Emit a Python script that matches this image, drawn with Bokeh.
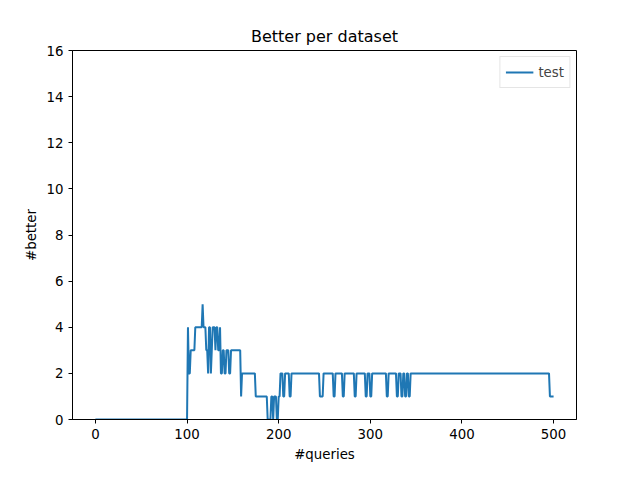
import numpy as np
from bokeh.plotting import figure
from bokeh.models import Legend, LegendItem, Range1d, FixedTicker
from bokeh.embed import file_html
from bokeh.resources import INLINE

# runs: (start query, value) held until next start
run_starts = [0, 101, 102, 104, 109, 117, 118, 121, 123, 124, 126, 127, 128, 131, 132, 134, 136, 137, 139, 141, 143, 146, 148, 151, 159, 160, 175, 188, 192, 194, 195, 198, 200, 202, 205, 207, 212, 214, 217,
              245, 249, 260, 262, 270, 272, 283, 285, 295, 297, 300, 302, 318, 320, 329, 331, 334, 336, 338, 340, 342, 344, 345, 496]
run_values = [0, 4, 2, 3, 4, 5, 4, 3, 2, 4, 2, 3, 4, 3, 4, 3, 4, 2, 3, 2, 3, 2, 3, 3, 1, 2, 1, 0, 1, 0, 1, 0, 1, 2, 1, 2, 1, 2, 2,
              1, 2, 1, 2, 1, 2, 1, 2, 1, 2, 1, 2, 1, 2, 1, 2, 1, 2, 1, 2, 1, 2, 2, 1]
last_query = 500

xs = np.arange(0, last_query + 1)
idx = np.searchsorted(run_starts, xs, side="right") - 1
ys = np.array(run_values)[idx]

p = figure(width=624, height=464, output_backend="svg", toolbar_location=None,
           title="Better per dataset", x_axis_label="#queries", y_axis_label="#better",
           min_border_left=72, min_border_right=48, min_border_top=50, min_border_bottom=37)
p.title.align = "center"
p.title.text_font = "DejaVu Sans"
p.title.text_font_size = "12pt"
p.title.text_font_style = "normal"
p.title.text_color = "black"
p.x_range = Range1d(-25, 525)
p.y_range = Range1d(0, 16)
p.xaxis.ticker = FixedTicker(ticks=[0, 100, 200, 300, 400, 500])
p.yaxis.ticker = FixedTicker(ticks=list(range(0, 17, 2)))
for ax in (p.xaxis[0], p.yaxis[0]):
    ax.axis_label_text_font = "DejaVu Sans"
    ax.axis_label_text_font_style = "normal"
    ax.axis_label_text_font_size = "10pt"
    ax.axis_label_text_color = "black"
    ax.major_label_text_font = "DejaVu Sans"
    ax.major_label_text_font_size = "10pt"
    ax.major_label_text_color = "black"
    ax.minor_tick_line_color = None
    ax.major_tick_in = 0
    ax.major_tick_out = 4
    ax.axis_line_color = "black"
    ax.major_tick_line_color = "black"
p.xgrid.visible = False
p.ygrid.visible = False
p.outline_line_color = "black"
r = p.line(xs, ys, line_color="#1f77b4", line_width=2)
leg = Legend(items=[LegendItem(label="test", renderers=[r])], location="top_right",
             label_text_font="DejaVu Sans", label_text_font_size="10pt",
             border_line_color="#cccccc", glyph_width=28, spacing=0, padding=5, margin=6)
p.add_layout(leg)

open("out.html", "w").write(file_html(p, INLINE))
